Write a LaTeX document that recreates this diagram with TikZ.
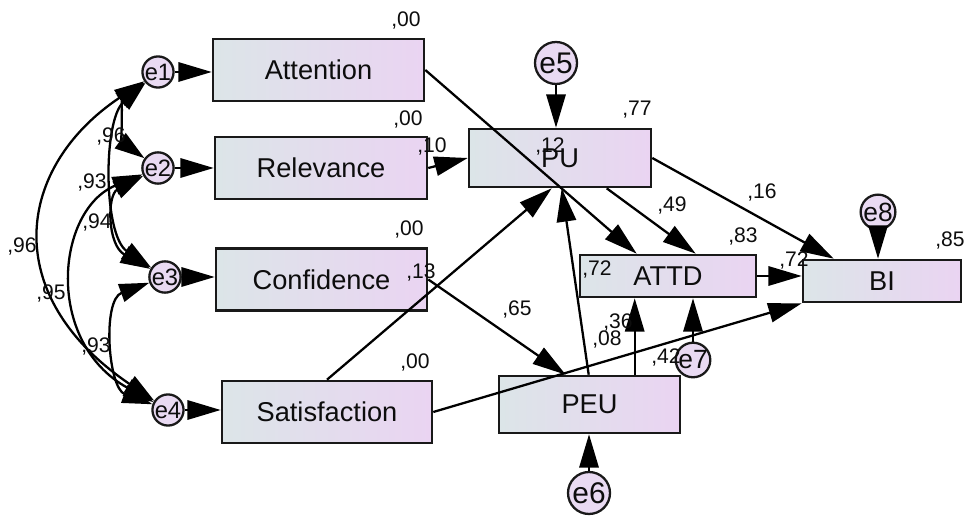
\documentclass[tikz,border=0pt]{standalone}
\usepackage{fontspec}
\setmainfont{Liberation Sans}
\usetikzlibrary{arrows.meta,calc}
\definecolor{boxL}{HTML}{DCE5E8}
\definecolor{boxR}{HTML}{EAD4F2}
\definecolor{errF}{HTML}{E9DAF2}
\begin{document}
\begin{tikzpicture}[x=0.02cm,y=-0.02cm,
  box/.style={draw=black!90, line width=1.5pt, left color=boxL, right color=boxR, inner sep=0pt,
    font=\fontsize{15.5}{16}\selectfont, text=black!95},
  err/.style={circle, draw=black!90, line width=1.3pt, fill=errF, inner sep=0pt, text=black!95},
  smallerr/.style={err, minimum size=0.56cm, font=\fontsize{13.5}{13}\selectfont},
  arr/.style={line width=1.3pt, -{Triangle[length=19pt,width=11pt]}},
  cov/.style={line width=1.3pt, {Triangle[length=17pt,width=10.5pt]}-{Triangle[length=17pt,width=10.5pt]}},
  num/.style={font=\fontsize{12}{12}\selectfont, inner sep=0pt, text=black!95}]
\useasboundingbox[fill=white] (0,0) rectangle (966,516);

% observed variables
\node[box, minimum width=4.22cm, minimum height=1.24cm] (att)  at (318.5,70)  {Attention};
\node[box, minimum width=4.24cm, minimum height=1.24cm] (rel)  at (321,168)   {Relevance};
\node[box, minimum width=4.22cm, minimum height=1.24cm] (conf) at (321.5,279.5) {Confidence};
\node[box, minimum width=4.20cm, minimum height=1.24cm] (sat)  at (327,412)   {Satisfaction};
\node[box, minimum width=3.64cm, minimum height=1.16cm] (pu)   at (560,158)   {PU};
\node[box, minimum width=3.52cm, minimum height=0.84cm] (attd) at (668,276)   {ATTD};
\node[box, minimum width=3.16cm, minimum height=0.84cm] (bi)   at (882,281)   {BI};
\node[box, minimum width=3.62cm, minimum height=1.14cm] (peu)  at (589.5,404.5) {PEU};

% error terms
\node[smallerr] (e1) at (158,72)  {e1};
\node[smallerr] (e2) at (158,168) {e2};
\node[smallerr] (e3) at (165,277) {e3};
\node[smallerr] (e4) at (168,410) {e4};
\node[err, minimum size=0.84cm, font=\fontsize{17}{17}\selectfont] (e5) at (556,63)  {e5};
\node[err, minimum size=0.84cm, font=\fontsize{17}{17}\selectfont] (e6) at (589,493) {e6};
\node[err, minimum size=0.64cm, font=\fontsize{15}{15}\selectfont] (e7) at (693,360) {e7};
\node[err, minimum size=0.66cm, font=\fontsize{15}{15}\selectfont] (e8) at (878,212) {e8};

% helper points on box borders
\coordinate (attdT1) at ([shift={(58,0)}]attd.north west);
\coordinate (attdT2) at ([shift={(117,0)}]attd.north west);
\coordinate (peuT1)  at ([shift={(68,0)}]peu.north west);
\coordinate (peuT2)  at ([shift={(91,0)}]peu.north west);
\coordinate (peuT3)  at ([shift={(137,0)}]peu.north west);
\coordinate (puB1)   at ([shift={(84,0)}]pu.south west);
\coordinate (puB2)   at ([shift={(94,0)}]pu.south west);
\coordinate (puB3)   at ([shift={(139,0)}]pu.south west);
\coordinate (biT)    at ([shift={(32,0)}]bi.north west);

% error -> indicator
\draw[arr] (e1) -- (e1 -| att.west);
\draw[arr] (e2) -- (e2 -| rel.west);
\draw[arr] (e3) -- (e3 -| conf.west);
\draw[arr] (e4) -- (e4 -| sat.west);
\draw[arr] (e5) -- (e5 |- pu.north);
\draw[arr] (e6) -- (e6 |- peu.south);
\draw[arr] (e7) -- (e7 |- attd.south);
\draw[arr] (e8) -- (e8 |- bi.north);

% structural paths
\draw[arr] (att.east) -- (attdT1);
\draw[arr] (rel.east) -- (pu.west);
\draw[arr] (conf.east) -- (peuT1);
\draw[arr] (sat.north) -- (puB1);
\draw[arr] (sat.east) -- (bi.south west);
\draw[arr] (peuT2) -- (puB2);
\draw[arr] (peuT3) -- (peuT3 |- attd.south);
\draw[arr] (puB3) -- (attdT2);
\draw[arr] (pu.east) -- (biT);
\draw[arr] (attd.east) -- (attd.east -| bi.west);

% covariances
\draw[cov] (e1) .. controls (16,167) and (-2,295) .. (e4);
\draw[cov] (e2) .. controls (56,210) and (44,342) .. (e4);
\draw[cov] (e1) .. controls (103,120) and (103,235) .. (e3);
\draw[cov] (e2) .. controls (107,195) and (107,245) .. (e3);
\draw[cov] (e3) .. controls (102,300) and (108,388) .. (e4);
\draw[cov] (e1) .. controls (122,100) and (122,142) .. (e2);

% estimates
\node[num] (n1)  at (406,20)  {,00};
\node[num] (n2)  at (408,119) {,00};
\node[num] (n3)  at (409,229) {,00};
\node[num] (n4)  at (415,362) {,00};
\node[num] (n5)  at (432,146) {,10};
\node[num] (n6)  at (550,146) {,12};
\node[num] (n7)  at (421,272) {,13};
\node[num] (n8)  at (637,110) {,77};
\node[num] (n9)  at (672,205) {,49};
\node[num] (n10) at (597,269) {,72};
\node[num] (n11) at (517,309) {,65};
\node[num] (n12) at (618,322) {,36};
\node[num] (n13) at (607,339) {,08};
\node[num] (n14) at (666,357) {,42};
\node[num] (n15) at (762,192) {,16};
\node[num] (n16) at (743,236) {,83};
\node[num] (n17) at (950,240) {,85};
\node[num] (n18) at (794,260) {,72};
\node[num] (c1)  at (111,136) {,96};
\node[num] (c2)  at (92,182)  {,93};
\node[num] (c3)  at (97,222)  {,94};
\node[num] (c4)  at (22,246)  {,96};
\node[num] (c5)  at (51,293)  {,95};
\node[num] (c6)  at (96,346)  {,93};
\end{tikzpicture}
\end{document}
